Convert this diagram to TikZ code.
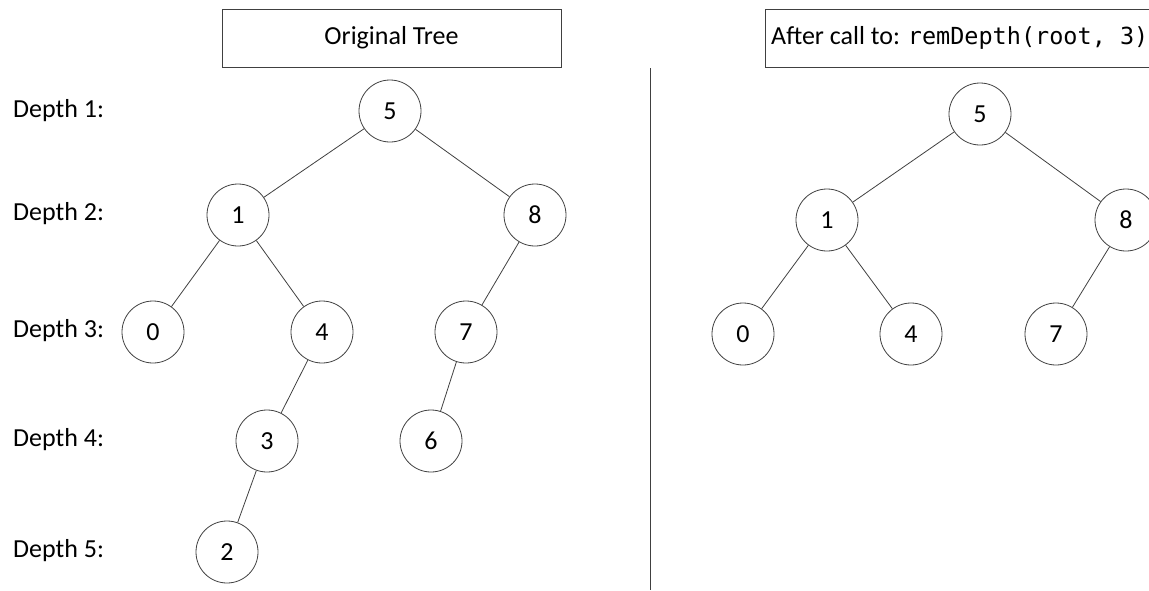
\documentclass[tikz,border=0pt]{standalone}
\usepackage{fontspec}
\setmainfont{Carlito}
\newfontfamily\codefont{DejaVu Sans Mono}
\begin{document}
\begin{tikzpicture}[x=1pt,y=-1pt,
  tnode/.style={circle,draw=black!75,line width=0.8pt,minimum size=62pt,inner sep=0pt,font=\fontsize{26}{30}\selectfont},
  edge/.style={draw=black!75,line width=0.8pt},
  lbl/.style={anchor=west,inner sep=0pt,font=\fontsize{26}{30}\selectfont},
  titlebox/.style={draw=black!75,line width=0.8pt,font=\fontsize{26}{30}\selectfont}]
\useasboundingbox (0,0) rectangle (1149,590);
\begin{scope}
\clip (0,0) rectangle (1149,590);
% title boxes
\node[titlebox,minimum width=339pt,minimum height=58pt,inner sep=0pt] (t1) at (391.5,38) {Original Tree};
\draw[edge] (1160,9) -- (765,9) -- (765,67) -- (1160,67);
\node[anchor=west,inner sep=0pt,font=\fontsize{26}{30}\selectfont] (t2) at (771,38) {After call to: {\codefont\fontsize{23.5}{30}\selectfont remDepth(root,~3)}};
% divider
\coordinate (d1) at (650,68);
\coordinate (d2) at (650,590);
\draw[edge] (d1) -- (d2);
% labels
\node[lbl] (l1) at (13,111) {Depth 1:};
\node[lbl] (l2) at (13,214) {Depth 2:};
\node[lbl] (l3) at (13,331) {Depth 3:};
\node[lbl] (l4) at (13,440) {Depth 4:};
\node[lbl] (l5) at (13,551) {Depth 5:};
% left tree
\node[tnode] (a5) at (390,111) {5};
\node[tnode] (a1) at (238,215) {1};
\node[tnode] (a8) at (535,215) {8};
\node[tnode] (a0) at (153,332) {0};
\node[tnode] (a4) at (322,332) {4};
\node[tnode] (a7) at (466,332) {7};
\node[tnode] (a3) at (267,441) {3};
\node[tnode] (a6) at (431,441) {6};
\node[tnode] (a2) at (227,552) {2};
\draw[edge] (a5) -- (a1);
\draw[edge] (a5) -- (a8);
\draw[edge] (a1) -- (a0);
\draw[edge] (a1) -- (a4);
\draw[edge] (a8) -- (a7);
\draw[edge] (a4) -- (a3);
\draw[edge] (a7) -- (a6);
\draw[edge] (a3) -- (a2);
% right tree
\node[tnode] (b5) at (980,114) {5};
\node[tnode] (b1) at (827,220) {1};
\node[tnode] (b8) at (1126,220) {8};
\node[tnode] (b0) at (743,334) {0};
\node[tnode] (b4) at (911,334) {4};
\node[tnode] (b7) at (1056,334) {7};
\draw[edge] (b5) -- (b1);
\draw[edge] (b5) -- (b8);
\draw[edge] (b1) -- (b0);
\draw[edge] (b1) -- (b4);
\draw[edge] (b8) -- (b7);
\end{scope}
\end{tikzpicture}
\end{document}
